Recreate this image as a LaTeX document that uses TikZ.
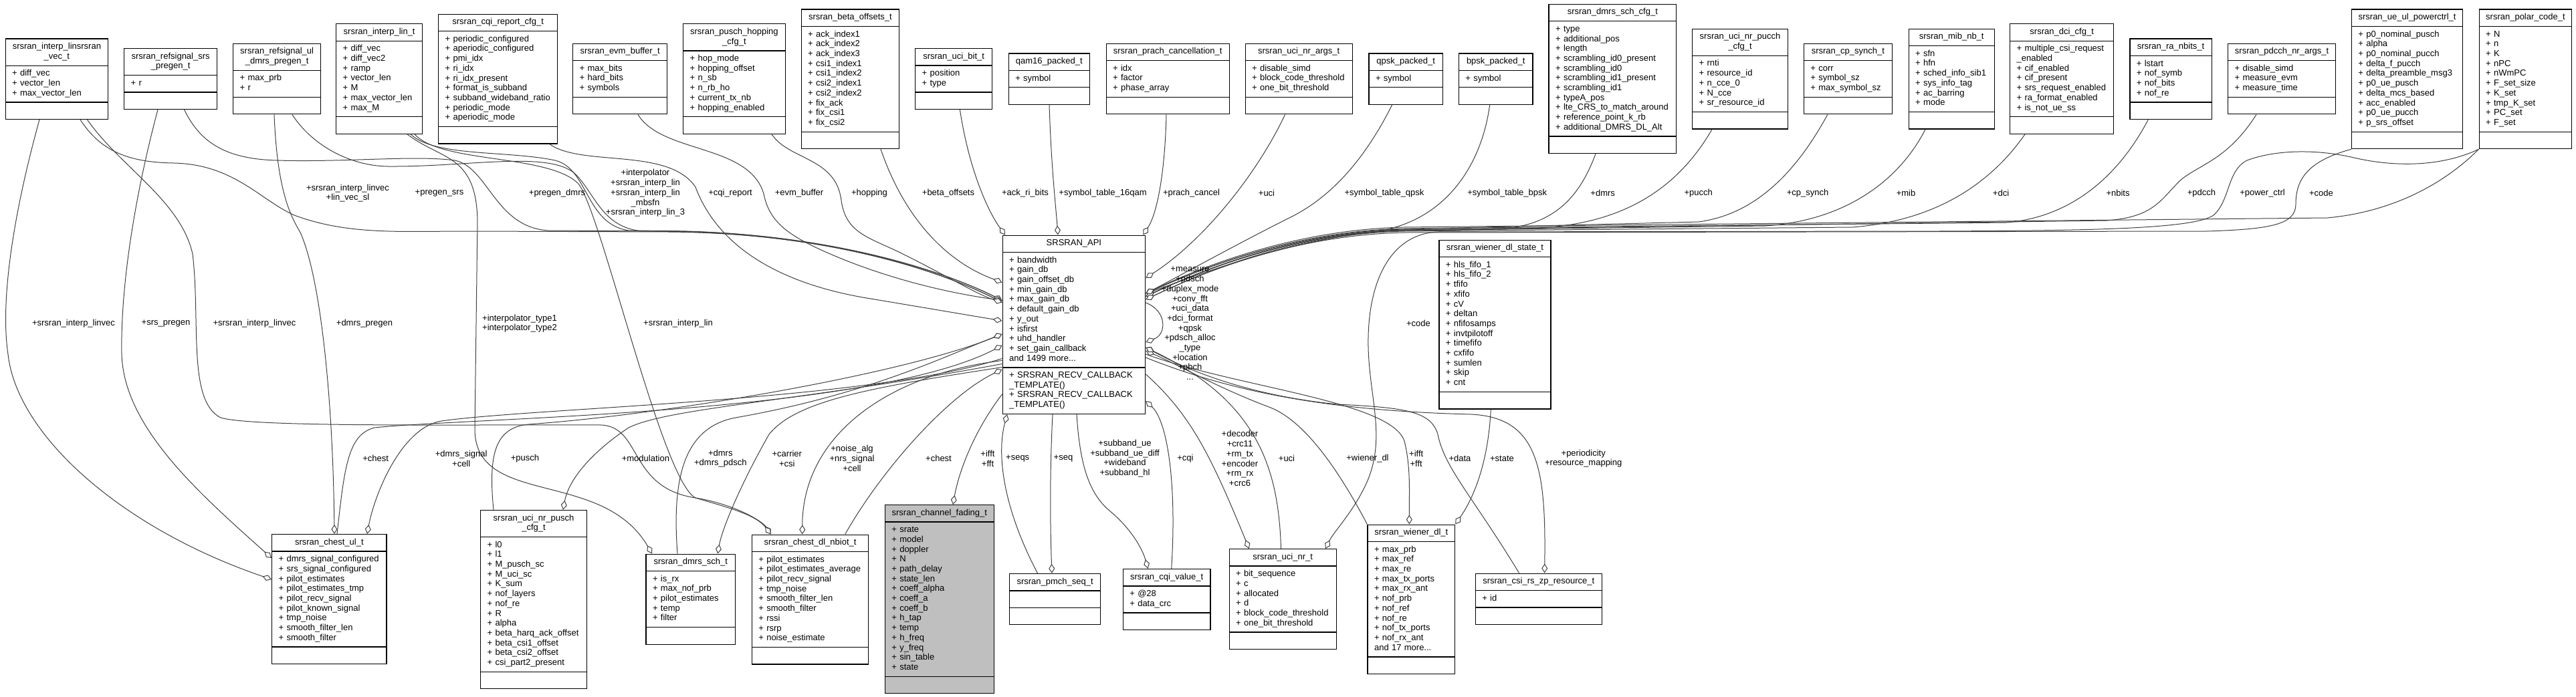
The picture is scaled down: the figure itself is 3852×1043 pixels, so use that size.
\documentclass[tikz,border=0pt]{standalone}
\usepackage{fontspec}
\setmainfont{Liberation Sans}
\usetikzlibrary{arrows.meta,shapes.multipart}
\definecolor{edgegray}{HTML}{404040}
\definecolor{focusgray}{HTML}{BFBFBF}
\newcommand{\boxfont}{\fontsize{13}{14.7}\selectfont\hyphenpenalty=10000\relax}
\newcommand{\fld}[1]{\strut+~#1}
\newcommand{\ttl}[1]{\makebox[\linewidth]{\strut #1}}
\newcommand{\nopart}{\strut}

\begin{document}
\catcode`\_=12
\begin{tikzpicture}[x=1pt, y=-1pt,
  classbox/.style={draw=black, fill=white, line width=1.3pt, rectangle split, rectangle split parts=3,
    anchor=north west, align=left, inner xsep=10pt, inner ysep=4.7pt, font=\boxfont},
  member/.style={draw=edgegray, line width=1pt, -{Diamond[fill=white, length=14pt, width=9pt]}},
  lbl/.style={font=\boxfont, align=center, inner sep=0pt}
]
\useasboundingbox (0,0) rectangle (3852,1043);

% structs above SRSRAN_API
\node[classbox, text width=133.5pt] (interpvec) at (7.5,57.5)
  {\ttl{srsran_interp_linsrsran}\\\ttl{_vec_t}\nodepart{second}\fld{diff_vec}\\\fld{vector_len}\\\fld{max_vector_len}\nodepart{third}\nopart};
\node[classbox, text width=119pt] (srspregen) at (185,72)
  {\ttl{srsran_refsignal_srs}\\\ttl{_pregen_t}\nodepart{second}\fld{r}\nodepart{third}\nopart};
\node[classbox, text width=111pt] (dmrspregen) at (348,64.6)
  {\ttl{srsran_refsignal_ul}\\\ttl{_dmrs_pregen_t}\nodepart{second}\fld{max_prb}\\\fld{r}\nodepart{third}\nopart};
\node[classbox, text width=109pt] (interplin) at (502,35.2)
  {\ttl{srsran_interp_lin_t}\nodepart{second}\fld{diff_vec}\\\fld{diff_vec2}\\\fld{ramp}\\\fld{vector_len}\\\fld{M}\\\fld{max_vector_len}\\\fld{max_M}\nodepart{third}\nopart};
\node[classbox, text width=158pt] (cqireport) at (655,20.6)
  {\ttl{srsran_cqi_report_cfg_t}\nodepart{second}\fld{periodic_configured}\\\fld{aperiodic_configured}\\\fld{pmi_idx}\\\fld{ri_idx}\\\fld{ri_idx_present}\\\fld{format_is_subband}\\\fld{subband_wideband_ratio}\\\fld{periodic_mode}\\\fld{aperiodic_mode}\nodepart{third}\nopart};
\node[classbox, text width=121pt] (evmbuf) at (856,64.6)
  {\ttl{srsran_evm_buffer_t}\nodepart{second}\fld{max_bits}\\\fld{hard_bits}\\\fld{symbols}\nodepart{third}\nopart};
\node[classbox, text width=132.5pt] (pushop) at (1021,35.2)
  {\ttl{srsran_pusch_hopping}\\\ttl{_cfg_t}\nodepart{second}\fld{hop_mode}\\\fld{hopping_offset}\\\fld{n_sb}\\\fld{n_rb_ho}\\\fld{current_tx_nb}\\\fld{hopping_enabled}\nodepart{third}\nopart};
\node[classbox, text width=126.5pt] (betaoff) at (1197.5,13.5)
  {\ttl{srsran_beta_offsets_t}\nodepart{second}\fld{ack_index1}\\\fld{ack_index2}\\\fld{ack_index3}\\\fld{csi1_index1}\\\fld{csi1_index2}\\\fld{csi2_index1}\\\fld{csi2_index2}\\\fld{fix_ack}\\\fld{fix_csi1}\\\fld{fix_csi2}\nodepart{third}\nopart};
\node[classbox, text width=95pt] (ucibit) at (1368,72)
  {\ttl{srsran_uci_bit_t}\nodepart{second}\fld{position}\\\fld{type}\nodepart{third}\nopart};
\node[classbox, text width=101pt] (qamsixteen) at (1507.6,79.4)
  {\ttl{qam16_packed_t}\nodepart{second}\fld{symbol}\nodepart{third}\nopart};
\node[classbox, text width=164pt] (prachcancel) at (1653.5,64.6)
  {\ttl{srsran_prach_cancellation_t}\nodepart{second}\fld{idx}\\\fld{factor}\\\fld{phase_array}\nodepart{third}\nopart};
\node[classbox, text width=140pt] (ucinrargs) at (1861.5,64.6)
  {\ttl{srsran_uci_nr_args_t}\nodepart{second}\fld{disable_simd}\\\fld{block_code_threshold}\\\fld{one_bit_threshold}\nodepart{third}\nopart};
\node[classbox, text width=90.3pt] (qpskpk) at (2046.4,79.4)
  {\ttl{qpsk_packed_t}\nodepart{second}\fld{symbol}\nodepart{third}\nopart};
\node[classbox, text width=90.7pt] (bpskpk) at (2180.7,79.4)
  {\ttl{bpsk_packed_t}\nodepart{second}\fld{symbol}\nodepart{third}\nopart};
\node[classbox, text width=170.6pt] (dmrsschcfg) at (2315.4,5.7)
  {\ttl{srsran_dmrs_sch_cfg_t}\nodepart{second}\fld{type}\\\fld{additional_pos}\\\fld{length}\\\fld{scrambling_id0_present}\\\fld{scrambling_id0}\\\fld{scrambling_id1_present}\\\fld{scrambling_id1}\\\fld{typeA_pos}\\\fld{lte_CRS_to_match_around}\\\fld{reference_point_k_rb}\\\fld{additional_DMRS_DL_Alt}\nodepart{third}\nopart};
\node[classbox, text width=122.7pt] (pucchcfg) at (2530,42.6)
  {\ttl{srsran_uci_nr_pucch}\\\ttl{_cfg_t}\nodepart{second}\fld{rnti}\\\fld{resource_id}\\\fld{n_cce_0}\\\fld{N_cce}\\\fld{sr_resource_id}\nodepart{third}\nopart};
\node[classbox, text width=111.8pt] (cpsynch) at (2696.8,64.6)
  {\ttl{srsran_cp_synch_t}\nodepart{second}\fld{corr}\\\fld{symbol_sz}\\\fld{max_symbol_sz}\nodepart{third}\nopart};
\node[classbox, text width=108pt] (mibnb) at (2853.5,42.6)
  {\ttl{srsran_mib_nb_t}\nodepart{second}\fld{sfn}\\\fld{hfn}\\\fld{sched_info_sib1}\\\fld{sys_info_tag}\\\fld{ac_barring}\\\fld{mode}\nodepart{third}\nopart};
\node[classbox, text width=135pt] (dcicfg) at (3005,35.2)
  {\ttl{srsran_dci_cfg_t}\nodepart{second}\fld{multiple_csi_request}\\\strut _enabled\\\fld{cif_enabled}\\\fld{cif_present}\\\fld{srs_request_enabled}\\\fld{ra_format_enabled}\\\fld{is_not_ue_ss}\nodepart{third}\nopart};
\node[classbox, text width=102.3pt] (ranbits) at (3184.2,57.5)
  {\ttl{srsran_ra_nbits_t}\nodepart{second}\fld{lstart}\\\fld{nof_symb}\\\fld{nof_bits}\\\fld{nof_re}\nodepart{third}\nopart};
\node[classbox, text width=140.8pt] (pdcchargs) at (3331,64.6)
  {\ttl{srsran_pdcch_nr_args_t}\nodepart{second}\fld{disable_simd}\\\fld{measure_evm}\\\fld{measure_time}\nodepart{third}\nopart};
\node[classbox, text width=146.2pt] (powerctrl) at (3515.8,13.5)
  {\ttl{srsran_ue_ul_powerctrl_t}\nodepart{second}\fld{p0_nominal_pusch}\\\fld{alpha}\\\fld{p0_nominal_pucch}\\\fld{delta_f_pucch}\\\fld{delta_preamble_msg3}\\\fld{p0_ue_pusch}\\\fld{delta_mcs_based}\\\fld{acc_enabled}\\\fld{p0_ue_pucch}\\\fld{p_srs_offset}\nodepart{third}\nopart};
\node[classbox, text width=118.5pt] (polarcode) at (3706.5,13.5)
  {\ttl{srsran_polar_code_t}\nodepart{second}\fld{N}\\\fld{n}\\\fld{K}\\\fld{nPC}\\\fld{nWmPC}\\\fld{F_set_size}\\\fld{K_set}\\\fld{tmp_K_set}\\\fld{PC_set}\\\fld{F_set}\nodepart{third}\nopart};

% the macro class and its neighbours
\node[classbox, text width=193.5pt] (api) at (1498.5,351.5)
  {\ttl{SRSRAN_API}\nodepart{second}\fld{bandwidth}\\\fld{gain_db}\\\fld{gain_offset_db}\\\fld{min_gain_db}\\\fld{max_gain_db}\\\fld{default_gain_db}\\\fld{y_out}\\\fld{isfirst}\\\fld{uhd_handler}\\\fld{set_gain_callback}\\\strut and 1499 more...\nodepart{third}\fld{SRSRAN_RECV_CALLBACK}\\\strut _TEMPLATE()\\\fld{SRSRAN_RECV_CALLBACK}\\\strut _TEMPLATE()};
\node[classbox, text width=147pt] (wienerstate) at (2151.3,358.6)
  {\ttl{srsran_wiener_dl_state_t}\nodepart{second}\fld{hls_fifo_1}\\\fld{hls_fifo_2}\\\fld{tfifo}\\\fld{xfifo}\\\fld{cV}\\\fld{deltan}\\\fld{nfifosamps}\\\fld{invtpilotoff}\\\fld{timefifo}\\\fld{cxfifo}\\\fld{sumlen}\\\fld{skip}\\\fld{cnt}\nodepart{third}\nopart};

% bottom row
\node[classbox, text width=151.4pt] (chestul) at (406,799)
  {\ttl{srsran_chest_ul_t}\nodepart{second}\fld{dmrs_signal_configured}\\\fld{srs_signal_configured}\\\fld{pilot_estimates}\\\fld{pilot_estimates_tmp}\\\fld{pilot_recv_signal}\\\fld{pilot_known_signal}\\\fld{tmp_noise}\\\fld{smooth_filter_len}\\\fld{smooth_filter}\nodepart{third}\nopart};
\node[classbox, text width=138.7pt] (puschcfg) at (718,762.8)
  {\ttl{srsran_uci_nr_pusch}\\\ttl{_cfg_t}\nodepart{second}\fld{l0}\\\fld{l1}\\\fld{M_pusch_sc}\\\fld{M_uci_sc}\\\fld{K_sum}\\\fld{nof_layers}\\\fld{nof_re}\\\fld{R}\\\fld{alpha}\\\fld{beta_harq_ack_offset}\\\fld{beta_csi1_offset}\\\fld{beta_csi2_offset}\\\fld{csi_part2_present}\nodepart{third}\nopart};
\node[classbox, text width=113.5pt] (dmrssch) at (965.4,828.5)
  {\ttl{srsran_dmrs_sch_t}\nodepart{second}\fld{is_rx}\\\fld{max_nof_prb}\\\fld{pilot_estimates}\\\fld{temp}\\\fld{filter}\nodepart{third}\nopart};
\node[classbox, text width=154.3pt] (chestnbiot) at (1123.7,799.5)
  {\ttl{srsran_chest_dl_nbiot_t}\nodepart{second}\fld{pilot_estimates}\\\fld{pilot_estimates_average}\\\fld{pilot_recv_signal}\\\fld{tmp_noise}\\\fld{smooth_filter_len}\\\fld{smooth_filter}\\\fld{rssi}\\\fld{rsrp}\\\fld{noise_estimate}\nodepart{third}\nopart};
\node[classbox, fill=focusgray, text width=142.9pt] (fading) at (1322.7,755)
  {\ttl{srsran_channel_fading_t}\nodepart{second}\fld{srate}\\\fld{model}\\\fld{doppler}\\\fld{N}\\\fld{path_delay}\\\fld{state_len}\\\fld{coeff_alpha}\\\fld{coeff_a}\\\fld{coeff_b}\\\fld{h_tap}\\\fld{temp}\\\fld{h_freq}\\\fld{y_freq}\\\fld{sin_table}\\\fld{state}\nodepart{third}\nopart};
\node[classbox, text width=116pt] (pmchseq) at (1509,857.8)
  {\ttl{srsran_pmch_seq_t}\nodepart{second}\nopart\nodepart{third}\nopart};
\node[classbox, text width=110.6pt] (cqivalue) at (1678.7,850.8)
  {\ttl{srsran_cqi_value_t}\nodepart{second}\fld{@28}\\\fld{data_crc}\nodepart{third}\nopart};
\node[classbox, text width=140pt] (ucinr) at (1837.5,821)
  {\ttl{srsran_uci_nr_t}\nodepart{second}\fld{bit_sequence}\\\fld{c}\\\fld{allocated}\\\fld{d}\\\fld{block_code_threshold}\\\fld{one_bit_threshold}\nodepart{third}\nopart};
\node[classbox, text width=110.6pt] (wienerdl) at (2044.4,784.5)
  {\ttl{srsran_wiener_dl_t}\nodepart{second}\fld{max_prb}\\\fld{max_ref}\\\fld{max_re}\\\fld{max_tx_ports}\\\fld{max_rx_ant}\\\fld{nof_prb}\\\fld{nof_ref}\\\fld{nof_re}\\\fld{nof_tx_ports}\\\fld{nof_rx_ant}\\\strut and 17 more...\nodepart{third}\nopart};
\node[classbox, text width=169pt] (csirszp) at (2205.6,857.5)
  {\ttl{srsran_csi_rs_zp_resource_t}\nodepart{second}\fld{id}\nodepart{third}\nopart};

% members of SRSRAN_API, left bundle
\draw[member] ([xshift=112.5]interpvec.south west) .. controls (150,225) and (190,243) .. (260,244) .. controls (350,246) and (390,300) .. (440,322) .. controls (520,352) and (600,346) .. (700,346) -- (1000,347) .. controls (1250,349) and (1420,410) .. ([yshift=-98]api.north west);
\draw[member] ([xshift=90.6]srspregen.south west) .. controls (300,215) and (340,238) .. (414,240) .. controls (520,243) and (620,232) .. (680,240) .. controls (730,250) and (740,340) .. (820,345) -- (1000,346) .. controls (1250,348) and (1420,410) .. ([yshift=-98]api.north west);
\draw[member] ([xshift=89]dmrspregen.south west) .. controls (465,215) and (520,248) .. (580,249) .. controls (700,250) and (820,225) .. (860,260) .. controls (890,290) and (900,340) .. (960,346) -- (1000,346.5) .. controls (1250,349) and (1420,412) .. ([yshift=-101]api.north west);
\draw[member] ([xshift=112]interplin.south west) .. controls (650,235) and (760,225) .. (830,240) .. controls (880,252) and (875,335) .. (940,345) -- (1000,345.5) .. controls (1250,348) and (1420,412) .. ([yshift=-101]api.north west);
\draw[member] ([xshift=167]cqireport.south west) .. controls (870,250) and (1000,220) .. (1040,280) .. controls (1070,360) and (1150,420) .. (1290,445) .. controls (1380,460) and (1450,472) .. ([yshift=-128.5]api.north west);
\draw[member] ([xshift=98]evmbuf.south west) .. controls (990,230) and (1120,215) .. (1142,290) .. controls (1150,330) and (1175,350) .. (1230,375) .. controls (1330,420) and (1430,440) .. ([yshift=-98]api.north west);
\draw[member] ([xshift=133]pushop.south west) .. controls (1180,240) and (1250,235) .. (1258,300) .. controls (1265,350) and (1300,355) .. (1350,380) .. controls (1420,415) and (1460,440) .. ([yshift=-101]api.north west);
\draw[member] ([xshift=119.5]betaoff.south west) .. controls (1350,320) and (1410,390) .. ([yshift=-71]api.north west);
\draw[member] ([xshift=67.4]ucibit.south west) .. controls (1450,260) and (1480,320) .. ([xshift=4.5]api.north west);
\draw[member] ([xshift=61.4]qamsixteen.south west) .. controls (1572,250) and (1578,300) .. ([xshift=83.5]api.north west);
\draw[member] ([xshift=90.5]prachcancel.south west) .. controls (1742,260) and (1730,320) .. ([xshift=-4]api.north east);
\draw[member] ([xshift=60]ucinrargs.south west) .. controls (1880,260) and (1800,360) .. ([yshift=-64.5]api.north east);

% right bundle
\draw[member] ([xshift=35.3]qpskpk.south west) .. controls (2040,240) and (1990,295) .. (1930,325) .. controls (1850,365) and (1760,415) .. ([yshift=-87.5]api.north east);
\draw[member] ([xshift=47]bpskpk.south west) .. controls (2215,250) and (2160,330) .. (2060,346) .. controls (1900,365) and (1770,420) .. ([yshift=-87.5]api.north east);
\draw[member] ([xshift=70.6]dmrsschcfg.south west) .. controls (2360,300) and (2320,338) .. (2240,343) -- (2100,345) .. controls (1920,349) and (1775,415) .. ([yshift=-92]api.north east);
\draw[member] ([xshift=30]pucchcfg.south west) .. controls (2510,280) and (2430,335) .. (2300,341) -- (2100,344) .. controls (1920,348) and (1775,415) .. ([yshift=-92]api.north east);
\draw[member] ([xshift=36]cpsynch.south west) .. controls (2690,250) and (2630,320) .. (2540,332) -- (2100,343) .. controls (1920,347) and (1775,412) .. ([yshift=-87.5]api.north east);
\draw[member] ([xshift=25.5]mibnb.south west) .. controls (2840,270) and (2760,330) .. (2640,338) -- (2100,345) .. controls (1920,349) and (1775,415) .. ([yshift=-92]api.north east);
\draw[member] ([xshift=23]dcicfg.south west) .. controls (2980,270) and (2900,330) .. (2770,340) -- (2100,346) .. controls (1920,350) and (1778,418) .. ([yshift=-96.5]api.north east);
\draw[member] ([xshift=28]ranbits.south west) .. controls (3170,260) and (3100,325) .. (3000,333) -- (2100,342) .. controls (1920,346) and (1775,412) .. ([yshift=-87.5]api.north east);
\draw[member] ([xshift=43]pdcchargs.south west) .. controls (3330,240) and (3290,245) .. (3260,270) .. controls (3230,300) and (3220,325) .. (3150,330) -- (2100,344) .. controls (1920,348) and (1775,415) .. ([yshift=-92]api.north east);
\draw[member] (powerctrl.south west) .. controls (3455,240) and (3433,265) .. (3433,305) .. controls (3433,335) and (3400,343) .. (3300,346) -- (2100,348) .. controls (1920,352) and (1778,418) .. ([yshift=-96.5]api.north east);
\draw[member] (polarcode.south west) .. controls (3650,280) and (3570,318) .. (3480,326) -- (2100,340) .. controls (1920,344) and (1775,410) .. ([yshift=-87.5]api.north east);
\draw[member] (polarcode.south west) .. controls (3650,250) and (3580,250) .. (3520,236) .. controls (3460,222) and (3400,225) .. (3360,240) .. controls (3330,255) and (3335,300) .. (3310,322) .. controls (3280,344) and (3100,345) .. (2900,346) -- (2150,347) .. controls (2080,350) and (2044,420) .. (2046,520) .. controls (2048,600) and (2075,660) .. (2040,730) .. controls (2020,770) and (1995,795) .. ([xshift=144.5]ucinr.north west);

% lower left
\draw[member] ([xshift=51.5]interpvec.south west) .. controls (20,320) and (0,450) .. (12,530) .. controls (25,650) and (180,790) .. ([yshift=-68]chestul.north west);
\draw[member] ([xshift=51]srspregen.south west) .. controls (205,280) and (180,420) .. (182,530) .. controls (185,640) and (300,740) .. ([yshift=-36]chestul.north west);
\draw[member] ([xshift=62]dmrspregen.south west) .. controls (415,300) and (440,330) .. (450,350) .. controls (480,420) and (498,600) .. ([xshift=94]chestul.north west);
\draw[member] ([xshift=123]interpvec.south west) .. controls (180,250) and (270,300) .. (288,380) .. controls (300,480) and (280,600) .. (330,625) .. controls (380,640) and (700,635) .. (900,636) .. controls (960,640) and (940,730) .. (1040,745) .. controls (1100,755) and (1140,780) .. ([xshift=29]chestnbiot.north west);
\draw[member] ([xshift=107]interplin.south west) .. controls (660,240) and (712,230) .. (714,330) -- (710,640) .. controls (708,760) and (900,700) .. ([xshift=9.6]dmrssch.north west);
\draw[member] ([xshift=118]interplin.south west) .. controls (660,245) and (820,230) .. (865,275) .. controls (900,320) and (990,720) .. (1040,745) .. controls (1090,760) and (1130,770) .. ([xshift=29]chestnbiot.north west);
\draw[member] ([xshift=98]chestul.north west) .. controls (515,700) and (520,650) .. (560,640) .. controls (700,625) and (1300,620) .. ([yshift=-165.5]api.north west);
\draw[member] ([yshift=-185]api.north west) .. controls (1300,600) and (800,610) .. (660,630) .. controls (600,640) and (560,740) .. ([xshift=143]chestul.north west);
\draw[member] ([xshift=20]puschcfg.north west) .. controls (730,680) and (740,640) .. (790,635) .. controls (1000,620) and (1350,560) .. ([yshift=-148.5]api.north west);
\draw[member] ([yshift=-193]api.north west) .. controls (1200,600) and (1000,610) .. (940,640) .. controls (880,680) and (850,720) .. ([xshift=124]puschcfg.north west);
\draw[member] ([yshift=-198]api.north west) .. controls (1300,580) and (1190,600) .. (1150,650) .. controls (1110,720) and (1080,790) .. ([xshift=-27]dmrssch.north east);
\draw[member] ([xshift=47.6]dmrssch.north west) .. controls (1005,720) and (1020,640) .. (1100,625) .. controls (1300,590) and (1420,530) .. ([yshift=-148.5]api.north west);
\draw[member] ([yshift=-188]api.north west) .. controls (1330,560) and (1200,650) .. ([xshift=76]chestnbiot.north west);
\draw[member] ([xshift=140]chestnbiot.north west) .. controls (1320,700) and (1420,590) .. ([yshift=-201.5]api.north west);
\draw[member] ([yshift=-238.5]api.north west) .. controls (1460,640) and (1435,700) .. ([xshift=102.3]fading.north west);

% lower right
\draw[member] ([xshift=42.5]pmchseq.north west) .. controls (1500,760) and (1490,680) .. ([xshift=7.5]api.south west);
\draw[member] ([xshift=75.5]api.south west) .. controls (1570,700) and (1570,780) .. ([xshift=64]pmchseq.north west);
\draw[member] ([xshift=111.5]api.south west) .. controls (1615,700) and (1630,740) .. (1660,765) .. controls (1690,790) and (1708,820) .. ([xshift=37.8]cqivalue.north west);
\draw[member] ([xshift=73]cqivalue.north west) .. controls (1760,720) and (1745,630) .. ([yshift=-248.5]api.north east);
\draw[member] ([yshift=-208.5]api.north east) .. controls (1780,620) and (1810,680) .. ([xshift=30.3]ucinr.north west);
\draw[member] ([xshift=78]ucinr.north west) .. controls (1912,700) and (1880,600) .. ([yshift=-168.5]api.north east);
\draw[member] (wienerdl.north west) .. controls (2000,700) and (1950,630) .. (1900,610) .. controls (1820,580) and (1760,545) .. ([yshift=-173.5]api.north east);
\draw[member] ([yshift=-178.5]api.north east) .. controls (1850,580) and (2080,600) .. (2100,660) .. controls (2110,700) and (2107,740) .. ([xshift=63]wienerdl.north west);
\draw[member] ([xshift=78]wienerstate.south west) .. controls (2225,700) and (2200,750) .. (wienerdl.north east);
\draw[member] ([xshift=66]csirszp.north west) .. controls (2200,740) and (2160,700) .. (2150,650) .. controls (2140,615) and (2100,610) .. (2000,605) .. controls (1850,590) and (1760,545) .. ([yshift=-168.5]api.north east);
\draw[member] ([yshift=-183.5]api.north east) .. controls (1850,590) and (2000,615) .. (2200,620) .. controls (2300,625) and (2312,700) .. ([xshift=104]csirszp.north west);
\draw[member] ([yshift=-101.5]api.north east) .. controls (1745,465) and (1745,500) .. ([yshift=-160.5]api.north east);

% edge labels
\node[lbl] (l-linvec) at (520,289) {+srsran_interp_linvec\\+lin_vec_sl};
\node[lbl] (l-pregensrs) at (657,289) {+pregen_srs};
\node[lbl] (l-pregendmrs) at (833,289) {+pregen_dmrs};
\node[lbl] (l-interp) at (965,289) {+interpolator\\+srsran_interp_lin\\+srsran_interp_lin\\_mbsfn\\+srsran_interp_lin_3};
\node[lbl] (l-cqireport) at (1092,289) {+cqi_report};
\node[lbl] (l-evm) at (1195,289) {+evm_buffer};
\node[lbl] (l-hopping) at (1300,289) {+hopping};
\node[lbl] (l-beta) at (1418,289) {+beta_offsets};
\node[lbl] (l-ackri) at (1533,289) {+ack_ri_bits};
\node[lbl] (l-qam) at (1649,289) {+symbol_table_16qam};
\node[lbl] (l-prach) at (1781.5,289) {+prach_cancel};
\node[lbl] (l-uciargs) at (1894,289) {+uci};
\node[lbl] (l-qpsk) at (2070,289) {+symbol_table_qpsk};
\node[lbl] (l-bpsk) at (2253.7,289) {+symbol_table_bpsk};
\node[lbl] (l-dmrscfg) at (2396.7,289) {+dmrs};
\node[lbl] (l-pucch) at (2539.7,289) {+pucch};
\node[lbl] (l-cpsynch) at (2703,289) {+cp_synch};
\node[lbl] (l-mib) at (2850,289) {+mib};
\node[lbl] (l-dci) at (2992,289) {+dci};
\node[lbl] (l-nbits) at (3167,289) {+nbits};
\node[lbl] (l-pdcch) at (3292,289) {+pdcch};
\node[lbl] (l-power) at (3383,289) {+power_ctrl};
\node[lbl] (l-codeapi) at (3471,289) {+code};

\node[lbl] (l-vecul) at (110,484) {+srsran_interp_linvec};
\node[lbl] (l-srspregen) at (248,484) {+srs_pregen};
\node[lbl] (l-vecnbiot) at (380.5,484) {+srsran_interp_linvec};
\node[lbl] (l-dmrspregen) at (545,484) {+dmrs_pregen};
\node[lbl] (l-interptype) at (777,484) {+interpolator_type1\\+interpolator_type2};
\node[lbl] (l-interplin) at (1014,484) {+srsran_interp_lin};
\node[lbl] (l-self) at (1779.5,484) {+measure\\+pdsch\\+duplex_mode\\+conv_fft\\+uci_data\\+dci_format\\+qpsk\\+pdsch_alloc\\_type\\+location\\+pbch\\...};
\node[lbl] (l-codeuci) at (2121,484) {+code};

\node[lbl] (l-chestul) at (561.6,686) {+chest};
\node[lbl] (l-dmrssig) at (689.7,686) {+dmrs_signal\\+cell};
\node[lbl] (l-pusch) at (785,686) {+pusch};
\node[lbl] (l-modulation) at (965.4,686) {+modulation};
\node[lbl] (l-dmrs) at (1077.3,686) {+dmrs\\+dmrs_pdsch};
\node[lbl] (l-carrier) at (1176.8,686) {+carrier\\+csi};
\node[lbl] (l-noise) at (1274,686) {+noise_alg\\+nrs_signal\\+cell};
\node[lbl] (l-chestnb) at (1403.5,686) {+chest};
\node[lbl] (l-fftfading) at (1477,686) {+ifft\\+fft};
\node[lbl] (l-seqs) at (1521.7,686) {+seqs};
\node[lbl] (l-seq) at (1590,686) {+seq};
\node[lbl] (l-subband) at (1682,686) {+subband_ue\\+subband_ue_diff\\+wideband\\+subband_hl};
\node[lbl] (l-cqi) at (1772.4,686) {+cqi};
\node[lbl] (l-decoder) at (1854,686) {+decoder\\+crc11\\+rm_tx\\+encoder\\+rm_rx\\+crc6};
\node[lbl] (l-ucinr) at (1924,686) {+uci};
\node[lbl] (l-wiener) at (2045,686) {+wiener_dl};
\node[lbl] (l-fftwiener) at (2117.7,686) {+ifft\\+fft};
\node[lbl] (l-data) at (2183,686) {+data};
\node[lbl] (l-state) at (2246,686) {+state};
\node[lbl] (l-period) at (2367.7,686) {+periodicity\\+resource_mapping};
\end{tikzpicture}
\end{document}
